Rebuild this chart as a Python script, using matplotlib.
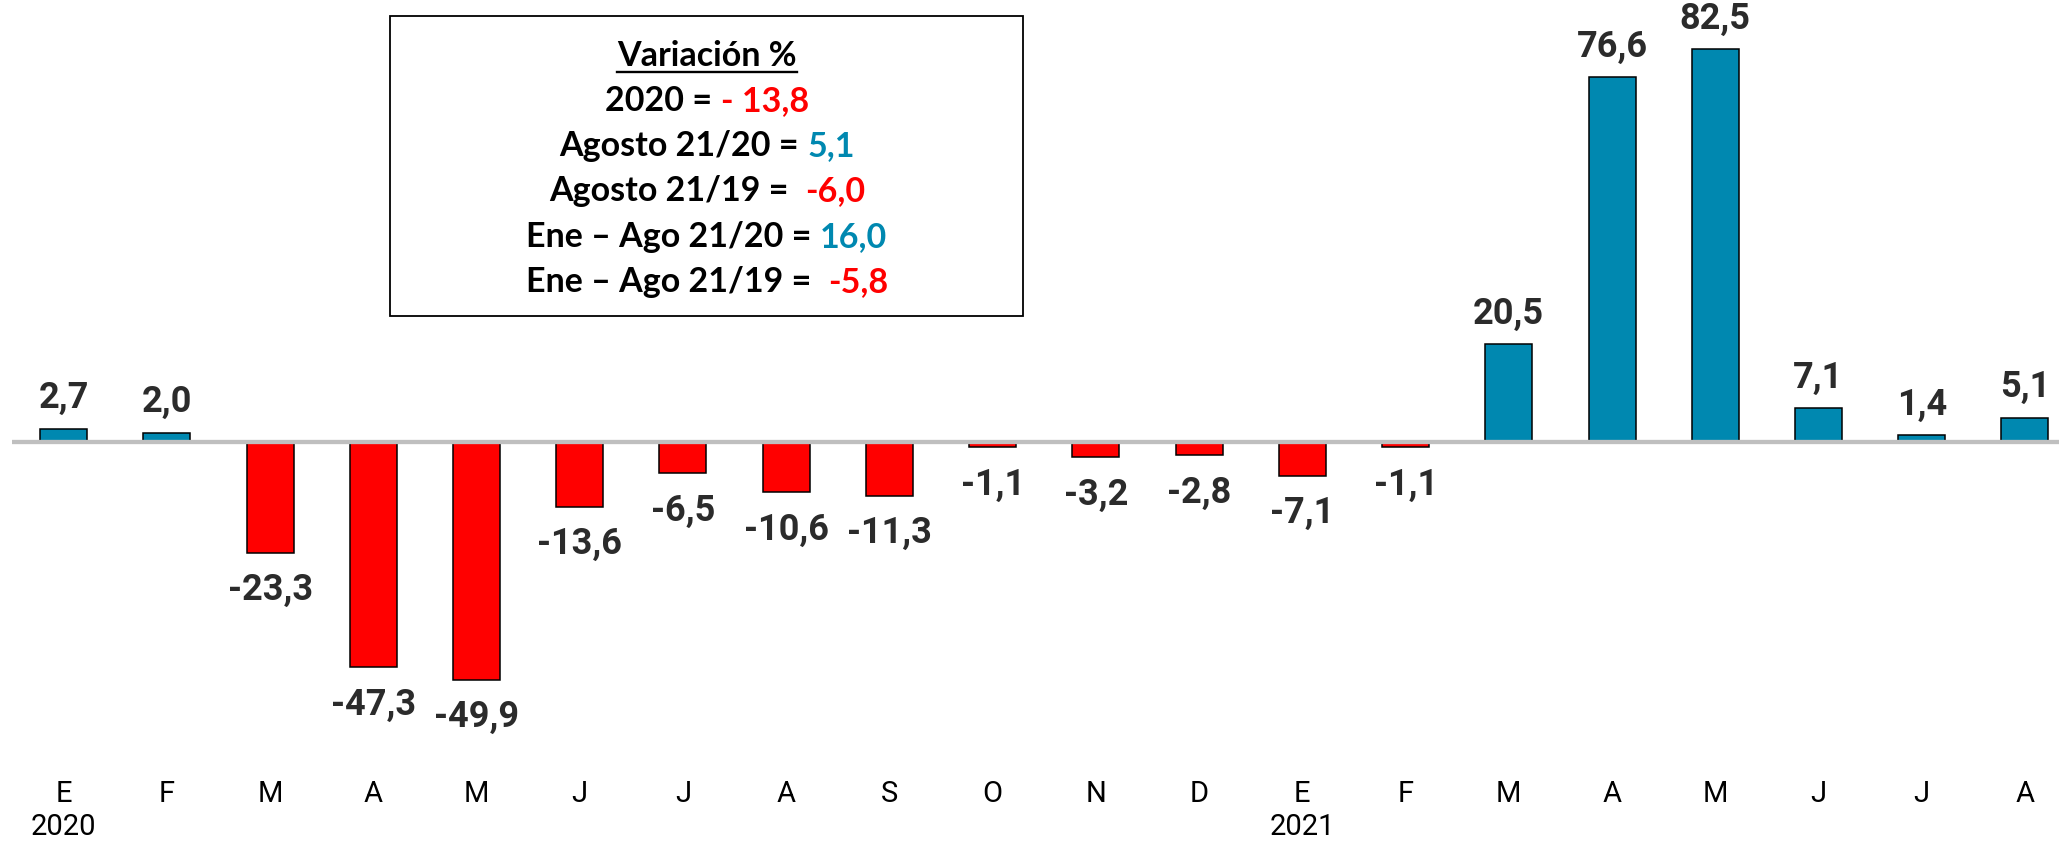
import matplotlib
matplotlib.use('Agg')
import matplotlib.pyplot as plt
from matplotlib.patches import Rectangle
from matplotlib.lines import Line2D

# Datos: variacion % mensual
meses = ['E', 'F', 'M', 'A', 'M', 'J', 'J', 'A', 'S', 'O', 'N', 'D',
         'E', 'F', 'M', 'A', 'M', 'J', 'J', 'A']
anios = {0: '2020', 12: '2021'}
variacion = [2.7, 2.0, -23.3, -47.3, -49.9, -13.6, -6.5, -10.6, -11.3, -1.1,
             -3.2, -2.8, -7.1, -1.1, 20.5, 76.6, 82.5, 7.1, 1.4, 5.1]

# Cuadro de texto
titulo_cuadro = 'Variación %'
textos_cuadro = ['2020 = ', 'Agosto 21/20 = ', 'Agosto 21/19 =  ',
                 'Ene – Ago 21/20 = ', 'Ene – Ago 21/19 =  ']
valores_cuadro = ['- 13,8', '5,1', '-6,0', '16,0', '-5,8']

AZUL = '#0088B0'
ROJO = '#FF0000'
GRIS_TXT = '#2b2b2b'
colores_cuadro = [ROJO, AZUL, ROJO, AZUL, ROJO]

W, H = 2059, 843
fig = plt.figure(figsize=(W / 100, H / 100), dpi=100)
ax = fig.add_axes([12 / W, (H - 770) / H, 2047 / W, 770 / H])

x = list(range(len(variacion)))
colores = [AZUL if v > 0 else ROJO for v in variacion]
ax.bar(x, variacion, width=0.455, color=colores, edgecolor='black', linewidth=1.1, zorder=2)
ax.axhline(0, color='#BFBFBF', lw=3.1, zorder=3)

ax.set_xlim(-0.5, 19.33)
ax.set_ylim(-68.9, 92.86)
for s in ax.spines.values():
    s.set_visible(False)
ax.set_yticks([])
ax.set_xticks(x)
etiquetas = [m + ('\n' + anios[i] if i in anios else '') for i, m in enumerate(meses)]
ax.set_xticklabels(etiquetas, fontsize=21, family='Roboto', linespacing=1.25, color='black')
ax.tick_params(axis='x', length=0, pad=7)

# Etiquetas de datos
for i, v in enumerate(variacion):
    txt = f'{v:.1f}'.replace('.', ',')
    if v > 0:
        ax.annotate(txt, (i, v), xytext=(0, 15), textcoords='offset points',
                    ha='center', va='baseline', fontsize=26, fontweight='bold',
                    family='Roboto', color=GRIS_TXT)
    else:
        ax.annotate(txt, (i, v), xytext=(0, -14), textcoords='offset points',
                    ha='center', va='top', fontsize=26, fontweight='bold',
                    family='Roboto', color=GRIS_TXT)

# Cuadro
fig.add_artist(Rectangle((390 / W, 1 - 316 / H), (1023 - 390) / W, 300 / H,
                         transform=fig.transFigure, facecolor='white',
                         edgecolor='black', lw=1.3, zorder=5))

fuente = dict(family='Lato', fontweight='bold', fontsize=24.5)
renderer = fig.canvas.get_renderer()


def ancho(s):
    t = fig.text(0, 0, s, **fuente)
    w = t.get_window_extent(renderer).width
    t.remove()
    return w


xc = 707
bases = [66, 111, 156, 201, 247, 292]

t = fig.text(xc / W, 1 - bases[0] / H, titulo_cuadro, ha='center', va='baseline',
             color='black', zorder=6, **fuente)
bb = t.get_window_extent(renderer)
fig.add_artist(Line2D([bb.x0 / W, bb.x1 / W], [1 - 72 / H, 1 - 72 / H],
                      transform=fig.transFigure, color='black', lw=1.7, zorder=6))

for k in range(len(textos_cuadro)):
    pre = textos_cuadro[k]
    val = valores_cuadro[k]
    total = ancho(pre + val)
    w_pre = ancho(pre + 'X') - ancho('X')
    x0 = xc - total / 2
    y = 1 - bases[k + 1] / H
    fig.text(x0 / W, y, pre, ha='left', va='baseline', color='black', zorder=6, **fuente)
    fig.text((x0 + w_pre) / W, y, val, ha='left', va='baseline',
             color=colores_cuadro[k], zorder=6, **fuente)

fig.savefig('out.png', dpi=100)
